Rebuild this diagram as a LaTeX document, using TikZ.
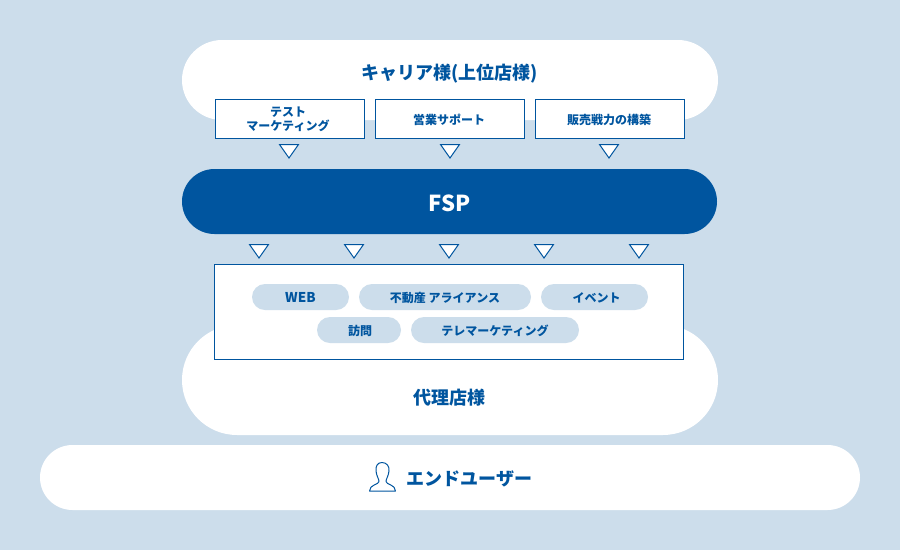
\documentclass[tikz,border=0pt]{standalone}
\usepackage{fontspec}
\setmainfont{Noto Sans CJK JP}
\definecolor{fspblue}{HTML}{00559F}
\definecolor{fsppale}{HTML}{CCDDEB}
\tikzset{
  cloudbox/.style={fill=white,rounded corners=#1},
  titlelabel/.style={text=fspblue,font=\fontsize{18}{20}\selectfont\bfseries},
  lowtext/.style={text height=11pt,text depth=1pt},
  itembox/.style={draw=fspblue,fill=white,line width=1pt,minimum width=149pt,minimum height=39pt,inner sep=0pt,align=center,text=fspblue,font=\fontsize{12}{14}\selectfont\bfseries},
  chiplabel/.style={lowtext,fill=fsppale,rounded corners=13pt,minimum height=26pt,inner sep=0pt,text=fspblue,font=\fontsize{12}{14}\selectfont\bfseries},
  downmark/.style={draw=fspblue,fill=white,line width=1pt,line join=miter}
}
\begin{document}
\begin{tikzpicture}[x=1pt,y=-1pt]
\fill[fsppale] (0,0) rectangle (900,550);
\useasboundingbox (0,0) rectangle (900,550);

% clouds
\fill[cloudbox=40pt] (182,40) rectangle (718,120);
\fill[cloudbox=55pt] (182,325) rectangle (718,435);
\fill[cloudbox=32.5pt] (40,445) rectangle (860,510);
\fill[fspblue,rounded corners=32.5pt] (182,169) rectangle (717,234);

\node[titlelabel] (carrier) at (449.5,74) {キャリア様(上位店様)};
\node[text=white,font=\fontsize{22}{26}\selectfont\bfseries] (fsp) at (449.5,203) {FSP};
\node[titlelabel] (agency) at (449.5,398) {代理店様};
\node[titlelabel] (enduser) at (469.5,479) {エンドユーザー};

% top row
\node[itembox] (test) at (290,119) {\hspace*{-4pt}テスト\\\hspace*{-4pt}マーケティング};
\node[itembox,lowtext] (sales) at (450,119) {\hspace*{-2pt}営業サポート};
\node[itembox,lowtext] (force) at (610,119) {\hspace*{-2pt}販売戦力の構築};

\foreach \x in {289,450,609}
  \draw[downmark] (\x-9.5,144.5) -- (\x+9.5,144.5) -- (\x,158) -- cycle;
\foreach \x in {259,354,449,544,639}
  \draw[downmark] (\x-9.5,244.5) -- (\x+9.5,244.5) -- (\x,258) -- cycle;

% channels
\node[draw=fspblue,fill=white,line width=1pt,minimum width=469pt,minimum height=95pt,inner sep=0pt] (channels) at (449,312) {};
\node[chiplabel,minimum width=97pt] (web) at (300.5,297) {\fontsize{13.5}{14}\selectfont WEB};
\node[chiplabel,minimum width=172pt] (estate) at (445,297) {不動産 アライアンス};
\node[chiplabel,minimum width=107pt] (event) at (594.5,297) {\hspace*{4pt}イベント};
\node[chiplabel,minimum width=84pt] (visit) at (359,330) {\hspace*{2pt}訪問};
\node[chiplabel,minimum width=168pt] (tele) at (495,330) {テレマーケティング};

% user icon
\draw[fspblue,line width=1pt,line join=round] (382,462.5)
  .. controls (377.5,462.5) and (375.5,466) .. (376,471)
  .. controls (376.5,476) and (379,479) .. (379,481.5)
  .. controls (379,484.5) and (369.5,484.5) .. (369.5,491)
  -- (395.5,491)
  .. controls (395.5,484.5) and (386,484.5) .. (386,481.5)
  .. controls (386,479) and (388.5,476) .. (389,471)
  .. controls (389.5,466) and (386.5,462.5) .. (382,462.5) -- cycle;
\end{tikzpicture}
\end{document}
